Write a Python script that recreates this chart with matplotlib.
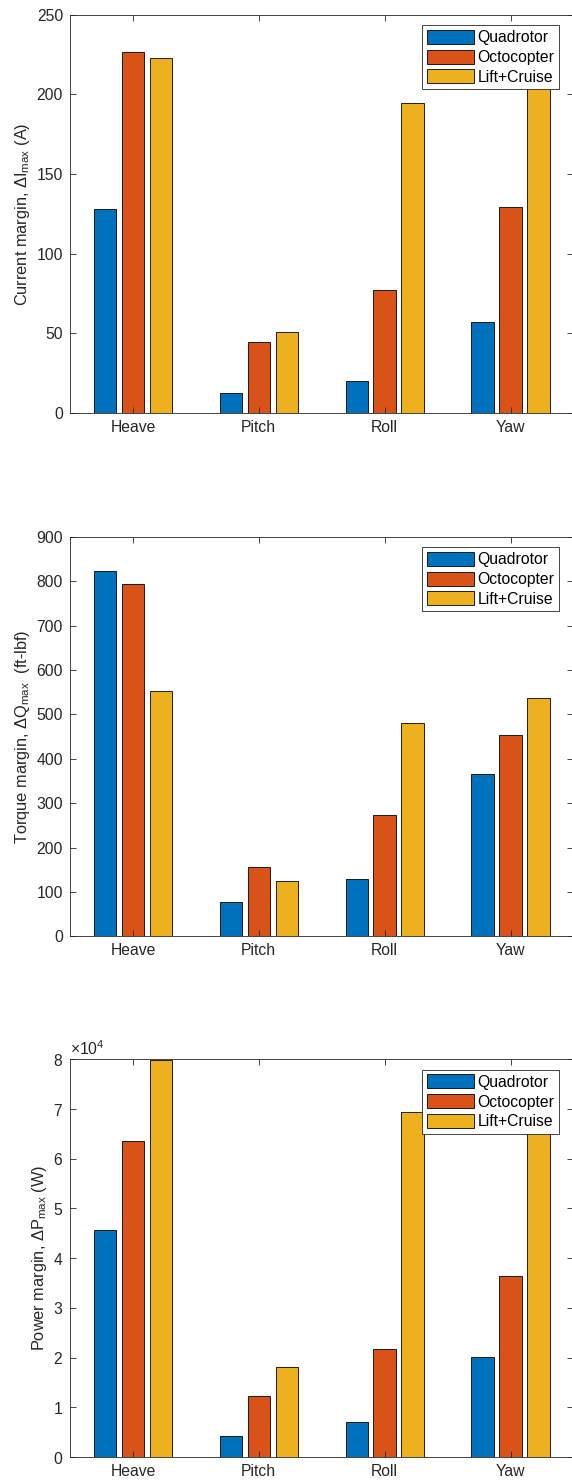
import matplotlib
matplotlib.use('Agg')
import matplotlib.pyplot as plt
import numpy as np

plt.rcParams['font.family'] = ['Liberation Sans', 'DejaVu Sans']
plt.rcParams['mathtext.fontset'] = 'custom'
plt.rcParams['mathtext.rm'] = 'Liberation Sans'
plt.rcParams['mathtext.it'] = 'Liberation Sans:italic'

categories = ['Heave', 'Pitch', 'Roll', 'Yaw']
vehicles = ['Quadrotor', 'Octocopter', 'Lift+Cruise']

# rows: Heave, Pitch, Roll, Yaw ; columns: Quadrotor, Octocopter, Lift+Cruise
current_margin = [[128.0, 226.9, 223.1],
                  [12.3, 44.6, 51.1],
                  [20.0, 77.4, 194.3],
                  [56.9, 129.5, 217.0]]
torque_margin = [[822.0, 794.0, 551.7],
                 [78.0, 156.0, 124.6],
                 [129.0, 272.5, 480.4],
                 [364.8, 453.4, 537.5]]
power_margin = [[45740, 63580, 79850],
                [4200, 12340, 18180],
                [7040, 21660, 69400],
                [20200, 36350, 77600]]

colors = ['#0072BD', '#D95319', '#EDB120']
frame_color = '#262626'

panels = [
    (current_margin, 'Current margin, $\\Delta$I$_{\\mathregular{max}}$ (A)', 250, 50),
    (torque_margin, 'Torque margin, $\\Delta$Q$_{\\mathregular{max}}$  (ft-lbf)', 900, 100),
    (power_margin, 'Power margin, $\\Delta$P$_{\\mathregular{max}}$ (W)', 80000, 10000),
]

W, H = 572, 1483
fig = plt.figure(figsize=(W / 100, H / 100), dpi=100)

# axes boxes in pixels: (top, bottom)
boxes = [(14.7, 413.0), (536.7, 936.3), (1059.3, 1457.0)]
left_px, right_px = 70.0, 573.5

x = np.arange(1, len(categories) + 1)
offsets = [-0.222, 0.0, 0.222]
bar_w = 0.178

for (values, ylabel, ymax, ystep), (top, bottom) in zip(panels, boxes):
    ax = fig.add_axes([left_px / W, 1 - bottom / H, (right_px - left_px) / W, (bottom - top) / H])
    vals = np.array(values, dtype=float)
    for j, name in enumerate(vehicles):
        ax.bar(x + offsets[j], vals[:, j], width=bar_w, color=colors[j],
               edgecolor='black', linewidth=0.6, label=name)

    ax.set_xlim(0.5, 4.5)
    ax.set_ylim(0, ymax)
    ax.set_xticks(x)
    ax.set_xticklabels(categories)
    ax.set_yticks(np.arange(0, ymax + ystep / 2, ystep))
    ax.tick_params(direction='in', length=4, width=0.6, colors=frame_color,
                   labelsize=11.3, top=True, right=True, pad=5)
    for s in ax.spines.values():
        s.set_color(frame_color)
        s.set_linewidth(0.6)
    ax.set_ylabel(ylabel, fontsize=11.8, color=frame_color, labelpad=3)

    if ymax == 80000:
        ax.ticklabel_format(axis='y', style='sci', scilimits=(4, 4), useMathText=True)
        ax.yaxis.get_offset_text().set_fontsize(11.3)
        ax.yaxis.get_offset_text().set_color(frame_color)

    leg = ax.legend(loc='upper right', bbox_to_anchor=(0.972, 0.974), borderaxespad=0,
                    fontsize=11.3, fancybox=False, framealpha=1, edgecolor=frame_color,
                    handlelength=3.0, handleheight=1.0, handletextpad=0.25,
                    labelspacing=0.28, borderpad=0.3)
    leg.get_frame().set_linewidth(0.6)

fig.savefig('out.png', dpi=100)
